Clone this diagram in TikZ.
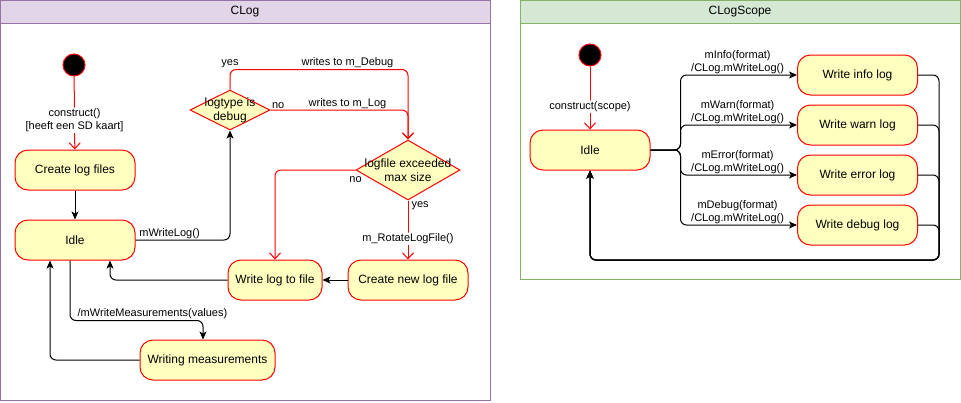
\documentclass[tikz,border=0pt]{standalone}
\usepackage{fontspec}
\setmainfont{Liberation Sans}
\usetikzlibrary{positioning}
\usetikzlibrary{arrows.meta}
\usetikzlibrary{shapes.geometric}

\definecolor{statefill}{HTML}{FFFFC0}
\definecolor{logline}{HTML}{9673A6}
\definecolor{loghead}{HTML}{E1D5E7}
\definecolor{scopeline}{HTML}{82B366}
\definecolor{scopehead}{HTML}{D5E8D4}

\begin{document}
\begin{tikzpicture} [x=1pt, y=-1pt, >={Stealth[length=8pt,width=7pt,inset=2pt]},
            line width=1pt, align=center, font=\fontsize{12}{14}\selectfont]

            \tikzstyle{state} = [rectangle, rounded corners=13pt, draw=red, fill=statefill,
                                 minimum width=120pt, minimum height=40pt, inner sep=0pt]
            \tikzstyle{choice} = [diamond, draw=red, fill=statefill, inner sep=0pt]
            \tikzstyle{startdot} = [circle, draw=red, fill=black, minimum size=22pt, inner sep=0pt]
            \tikzstyle{flow} = [->, rounded corners=6pt]
            \tikzstyle{redflow} = [-{Straight Barb[length=6pt,width=11pt]}, red, rounded corners=6pt]
            \tikzstyle{lbl} = [font=\fontsize{11}{13}\selectfont, text=black, inner sep=1pt]
            \tikzstyle{title} = [font=\fontsize{12}{14}\selectfont]

            \useasboundingbox (0,0) rectangle (961,402);

            % CLog
            \draw[logline, fill=loghead] (0.5,0.5) rectangle (490,23);
            \draw[logline] (0.5,23) rectangle (490,400);
            \node[title](clogtitle) at(245,12) {CLog};

            \node[startdot](start) at(74, 65) {};
            \node[state](create) at(75, 170) {Create log files};
            \node[state](idle) at(75, 240) {Idle};
            \node[choice, minimum width=80pt, minimum height=40pt,
                  label={center:logtype is\\debug}](debugq) at(230, 110) {};
            \node[choice, minimum width=104pt, minimum height=60pt,
                  label={center:logfile exceeded\\max size}](sizeq) at(408, 170) {};
            \node[state, minimum width=94pt](writefile) at(275, 280) {Write log to file};
            \node[state](newfile) at(408, 280) {Create new log file};
            \node[state, minimum width=135pt](measure) at(207.5, 360) {Writing measurements};

            \draw[redflow] (start) -- node[lbl, fill=white, pos=0.6] {construct()\\{[heeft een SD kaart]}} (create);
            \draw[flow] (create) -- (idle);
            \draw[flow] (idle.east) -| node[lbl, above, pos=0.18] {mWriteLog()} (debugq.south);
            \draw[redflow] (debugq.north) -- ++(0,-20) node[lbl, above] {yes}
                -| node[lbl, above, pos=0.33] {writes to m\_Debug} (sizeq.north);
            \draw[redflow] (debugq.east) node[lbl, anchor=south west] {no}
                -| node[lbl, above, pos=0.28] {writes to m\_Log} (sizeq.north);
            \draw[redflow] (sizeq.west) node[lbl, below, yshift=-5pt] {no} -| (writefile.north);
            \draw[redflow] (sizeq.south) node[lbl, anchor=north west, xshift=2pt] {yes}
                -- node[lbl, fill=white, pos=0.65] {m\_RotateLogFile()} (newfile.north);
            \draw[flow] (newfile) -- (writefile);
            \draw[flow] (writefile.west) -| ([xshift=35pt]idle.south);
            \draw[flow] ([xshift=-5pt]idle.south) -- ++(0,60)
                -| node[lbl, above, pos=0.31] {/mWriteMeasurements(values)} ([xshift=-4.5pt]measure.north);
            \draw[flow] (measure.west) -| ([xshift=-25pt]idle.south);

            % CLogScope
            \draw[scopeline, fill=scopehead] (520,0.5) rectangle (960.5,23);
            \draw[scopeline] (520,23) rectangle (960.5,279);
            \node[title](scopetitle) at(740,12) {CLogScope};

            \node[startdot](start2) at(590, 55) {};
            \node[state](idle2) at(590, 150) {Idle};
            \node[state](info) at(857.5, 75) {Write info log};
            \node[state](warn) at(857.5, 125) {Write warn log};
            \node[state](error) at(857.5, 175) {Write error log};
            \node[state](debug) at(857.5, 225) {Write debug log};
            \coordinate (back) at(939, 260);

            \draw[redflow] (start2) -- node[lbl, fill=white, pos=0.64] {construct(scope)} (idle2);
            \foreach \s/\m in {info/mInfo, warn/mWarn, error/mError, debug/mDebug}{
                \draw[flow] (idle2.east) -- ++(30,0)
                    |- node[lbl, above, pos=0.745] {\m(format)\\/CLog.mWriteLog()} (\s.west);
                \draw[flow] (\s.east) -| (back) -| (idle2.south);
            }
\end{tikzpicture}
\end{document}
